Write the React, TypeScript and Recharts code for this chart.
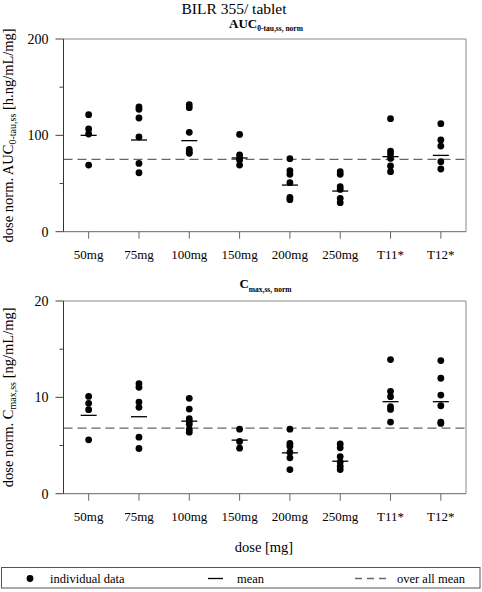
import React from 'react';
import {
  ComposedChart,
  Scatter,
  XAxis,
  YAxis,
  ReferenceLine,
} from 'recharts';

const FONT = '"Liberation Serif", "Times New Roman", serif';

const DOSES = ['50mg', '75mg', '100mg', '150mg', '200mg', '250mg', 'T11*', 'T12*'];

// dose normalised AUC0-tau,ss, one list per dose group
const AUC_INDIVIDUAL = [
  [121.5, 106.6, 101.4, 69.2],
  [129.4, 127.0, 118.0, 98.3, 70.9, 61.2],
  [131.8, 128.7, 103.1, 85.5, 82.7, 81.3],
  [101.0, 79.6, 76.1, 74.4, 69.2],
  [75.8, 63.3, 59.5, 50.9, 35.6, 33.2],
  [62.3, 59.5, 46.7, 43.9, 34.6, 30.1],
  [117.3, 83.7, 80.6, 76.1, 68.2, 62.3],
  [112.1, 95.2, 88.9, 72.7, 65.1],
];
const AUC_MEAN = [100.0, 95.2, 94.5, 76.5, 48.4, 42.2, 77.9, 79.2];
const AUC_OVERALL = 75.1;
const AUC_TICKS = [0, 50, 100, 150, 200];

// dose normalised Cmax,ss
const CMAX_INDIVIDUAL = [
  [10.1, 9.38, 8.72, 5.59],
  [11.42, 11.04, 9.51, 8.96, 5.87, 4.69],
  [9.9, 8.78, 7.78, 7.5, 7.22, 6.67, 6.39],
  [6.7, 5.42, 4.72],
  [6.7, 5.21, 4.93, 4.31, 3.72, 2.5],
  [5.17, 4.76, 3.85, 3.3, 2.85, 2.5],
  [13.92, 10.63, 10.07, 9.03, 8.75, 7.43],
  [13.82, 11.98, 10.24, 9.13, 7.43, 7.29],
];
const CMAX_MEAN = [8.13, 7.99, 7.53, 5.56, 4.24, 3.37, 9.55, 9.55];
const CMAX_OVERALL = 6.81;
const CMAX_TICKS = [0, 5, 10, 15, 20];

const Dot = (p: any) => <circle cx={p.cx} cy={p.cy} r={3.4} fill="#000" />;
const MeanBar = (p: any) => (
  <line x1={p.cx - 8} x2={p.cx + 8} y1={p.cy} y2={p.cy} stroke="#000" strokeWidth={1.3} />
);

function YTick({ x, y, payload, major }: any) {
  const isMajor = payload.value % major === 0;
  return (
    <g>
      <line x1={x - (isMajor ? 8 : 4)} x2={x} y1={y} y2={y} stroke="#444" />
      {isMajor && (
        <text x={x - 15} y={y} dy="0.35em" textAnchor="end" fontSize={14} fontFamily={FONT} fill="#000">
          {payload.value}
        </text>
      )}
    </g>
  );
}

function YTitle({ viewBox, main, sub, unit }: any) {
  const cx = viewBox.x - 7;
  const cy = viewBox.y + viewBox.height / 2;
  return (
    <text
      x={cx}
      y={cy}
      transform={`rotate(-90, ${cx}, ${cy})`}
      textAnchor="middle"
      fontSize={14.5}
      fontFamily={FONT}
      fill="#000"
    >
      {main}
      <tspan fontSize={10} dy={3}>{sub}</tspan>
      <tspan dy={-3}>{unit}</tspan>
    </text>
  );
}

type PanelProps = {
  top: number;
  individual: number[][];
  mean: number[];
  overall: number;
  ticks: number[];
  major: number;
  main: string;
  sub: string;
  unit: string;
};

function Panel({ top, individual, mean, overall, ticks, major, main, sub, unit }: PanelProps) {
  const points = individual.flatMap((vals, i) => vals.map((v) => ({ x: i, y: v })));
  const means = mean.map((v, i) => ({ x: i, y: v }));
  const yMax = ticks[ticks.length - 1];
  return (
    <div style={{ position: 'absolute', left: 0, top }}>
      <ComposedChart width={482} height={272} margin={{ top: 39, right: 16, bottom: 0, left: 20 }}>
        <XAxis
          type="number"
          dataKey="x"
          domain={[-0.5, 7.5]}
          ticks={DOSES.map((_, i) => i)}
          tickFormatter={(i: number) => DOSES[i]}
          height={40.3}
          tickSize={7}
          tickMargin={11}
          axisLine={{ stroke: '#666' }}
          tickLine={{ stroke: '#666' }}
          tick={{ fontSize: 13, fontFamily: FONT, fill: '#000' }}
          interval={0}
        />
        <YAxis
          type="number"
          dataKey="y"
          domain={[0, yMax]}
          ticks={ticks}
          width={43.5}
          tickSize={0}
          tickMargin={0}
          tickLine={false}
          axisLine={{ stroke: '#333' }}
          tick={(p: any) => <YTick {...p} major={major} />}
          label={{ content: (p: any) => <YTitle viewBox={p.viewBox} main={main} sub={sub} unit={unit} /> }}
        />
        <ReferenceLine y={yMax} stroke="#888" />
        <ReferenceLine x={7.5} stroke="#888" />
        <ReferenceLine y={overall} stroke="#666" strokeWidth={1.4} strokeDasharray="9 5" />
        <Scatter data={points} shape={Dot} isAnimationActive={false} />
        <Scatter data={means} shape={MeanBar} isAnimationActive={false} />
      </ComposedChart>
    </div>
  );
}

export default function App() {
  return (
    <div style={{ position: 'absolute', left: 0, top: 0, width: 482, height: 592, background: '#fff', fontFamily: FONT }}>
      <Panel
        top={0}
        individual={AUC_INDIVIDUAL}
        mean={AUC_MEAN}
        overall={AUC_OVERALL}
        ticks={AUC_TICKS}
        major={100}
        main="dose norm. AUC"
        sub="0-tau,ss"
        unit=" [h.ng/mL/mg]"
      />
      <Panel
        top={262}
        individual={CMAX_INDIVIDUAL}
        mean={CMAX_MEAN}
        overall={CMAX_OVERALL}
        ticks={CMAX_TICKS}
        major={10}
        main="dose norm. C"
        sub="max,ss"
        unit=" [ng/mL/mg]"
      />
      <svg width={482} height={592} style={{ position: 'absolute', left: 0, top: 0, pointerEvents: 'none' }}>
        <g fontFamily={FONT} fill="#000">
          <text x={234} y={13.5} fontSize={15.5} textAnchor="middle">BILR 355/ tablet</text>
          <text x={266} y={27.5} fontSize={13} fontWeight="bold" textAnchor="middle">
            AUC<tspan fontSize={7.5} dy={3.5}>0-tau,ss, norm</tspan>
          </text>
          <text x={265.5} y={288} fontSize={13} fontWeight="bold" textAnchor="middle">
            C<tspan fontSize={7.5} dy={4}>max,ss, norm</tspan>
          </text>
          <text x={264} y={551.5} fontSize={14.5} textAnchor="middle">dose [mg]</text>
        </g>
        <rect x={1.5} y={567.5} width={478.5} height={20.5} fill="none" stroke="#555" />
        <g fontFamily={FONT} fontSize={12.5} fill="#000">
          <circle cx={30} cy={578.5} r={3.4} fill="#000" />
          <text x={50} y={582.5}>individual data</text>
          <line x1={208} x2={223} y1={578.5} y2={578.5} stroke="#000" strokeWidth={1.3} />
          <text x={237} y={582.5}>mean</text>
          <line x1={355} x2={386} y1={578.5} y2={578.5} stroke="#666" strokeWidth={1.4} strokeDasharray="7 5" />
          <text x={397} y={582.5}>over all mean</text>
        </g>
      </svg>
    </div>
  );
}
